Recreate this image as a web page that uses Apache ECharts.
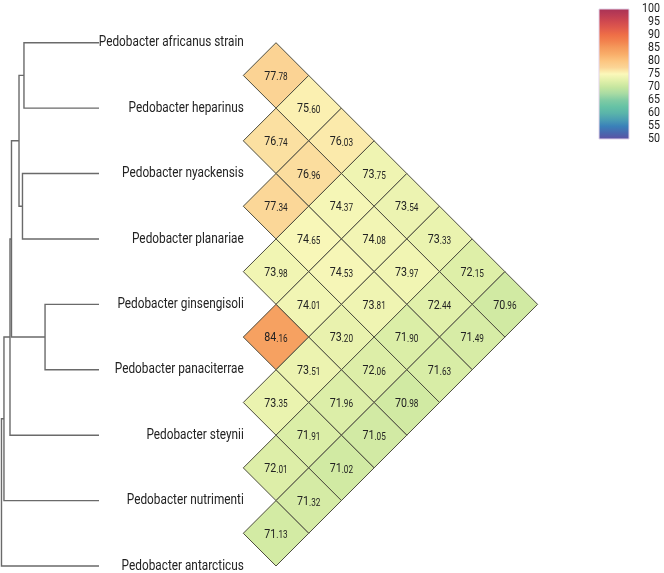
<!DOCTYPE html>
<html>
<head>
<meta charset="utf-8">
<script src="https://cdn.jsdelivr.net/npm/echarts@6/dist/echarts.min.js"></script>
<style>html,body{margin:0;padding:0;background:#fff;}#c{width:664px;height:573px;}</style>
</head>
<body>
<div id="c"></div>
<script>
// ---- data ----
var species = ['Pedobacter africanus strain','Pedobacter heparinus','Pedobacter nyackensis','Pedobacter planariae','Pedobacter ginsengisoli','Pedobacter panaciterrae','Pedobacter steynii','Pedobacter nutrimenti','Pedobacter antarcticus'];
// row i: identity of species i vs species i+1 .. 8
var row0 = [77.78, 75.60, 76.03, 73.75, 73.54, 73.33, 72.15, 70.96];
var row1 = [76.74, 76.96, 74.37, 74.08, 73.97, 72.44, 71.49];
var row2 = [77.34, 74.65, 74.53, 73.81, 71.90, 71.63];
var row3 = [73.98, 74.01, 73.20, 72.06, 70.98];
var row4 = [84.16, 73.51, 71.96, 71.05];
var row5 = [73.35, 71.91, 71.02];
var row6 = [72.01, 71.32];
var row7 = [71.13];
// dendrogram merges: [childA, childB, height]; leaves 0..8, new nodes 9..
var merges = [[0,1,75.8],[2,3,77.3],[9,10,80.8],[4,5,54.5],[11,12,88.4],[13,6,89.9],[14,7,96.0],[15,8,98.5]];
var colorTicks = [50,55,60,65,70,75,80,85,90,95,100];
// colour scale 50 -> 100 (equal steps)
var palette = ['#5E4FA2','#4967AE','#3A80B9','#4A9DB3','#5AB4AA','#66C2A5','#80CBA4','#A8DBA3','#C6E69F','#E2F0AA','#FBF8BA','#FBD596','#FCC580','#F9AE6A','#F59A5C','#F2824E','#EE6E47','#E05A4C','#D0494F','#BC3C54','#A83256'];

var FONT = 'Roboto, "Noto Sans", sans-serif';
var rows = [row0,row1,row2,row3,row4,row5,row6,row7];

// heatmap cells: [x, y, value]  (diamond layout)
var cells = [];
rows.forEach(function(r, i){
  r.forEach(function(v, k){
    var j = i + k + 1;
    cells.push([(j - i - 1) / 2, (i + j) / 2, v]);
  });
});
var labelData = species.map(function(s, i){ return [0, i]; });

// dendrogram segments
var nodeH = [], nodeY = [];
for (var i = 0; i < species.length; i++){ nodeH.push(0); nodeY.push(i); }
var dendro = [];
merges.forEach(function(m){
  var a = m[0], b = m[1], h = m[2];
  dendro.push([nodeH[a], nodeY[a], nodeH[b], nodeY[b], h]);
  nodeH.push(h); nodeY.push((nodeY[a] + nodeY[b]) / 2);
});

// condensed look: horizontal squeeze factor from measured width
var LABEL_FONT = '14.5px ' + FONT;
var ctx = document.createElement('canvas').getContext('2d');
ctx.font = LABEL_FONT;
var labelScale = 145 / ctx.measureText(species[0]).width;
var NUM_SCALE = 0.82;

var chart = echarts.init(document.getElementById('c'), null, {renderer:'canvas'});
var gTop = 42.7, gH = 523.3;
chart.setOption({
  animation: false,
  backgroundColor: '#fff',
  grid: [
    {left: 0, top: gTop, width: 99, height: gH},
    {left: 243.3, top: gTop, width: 294.3, height: gH},
    {left: 599, top: 9, width: 30, height: 130}
  ],
  xAxis: [
    {gridIndex: 0, type: 'value', min: 0, max: 100, inverse: true, show: false},
    {gridIndex: 1, type: 'value', min: -0.5, max: 4, show: false},
    {gridIndex: 2, type: 'value', min: 0, max: 1, show: false}
  ],
  yAxis: [
    {gridIndex: 0, type: 'value', min: 0, max: 8, inverse: true, show: false},
    {gridIndex: 1, type: 'value', min: 0, max: 8, interval: 1, inverse: true, show: false},
    {gridIndex: 2, type: 'value', min: 50, max: 100, interval: 5, show: false}
  ],
  visualMap: {show: false, type: 'continuous', min: 50, max: 100, seriesIndex: 1, dimension: 2,
    inRange: {color: palette}},
  series: [
    {
      type: 'custom', xAxisIndex: 0, yAxisIndex: 0, data: dendro, silent: true,
      renderItem: function(params, api){
        var p1 = api.coord([api.value(0), api.value(1)]);
        var p2 = api.coord([api.value(4), api.value(1)]);
        var p3 = api.coord([api.value(4), api.value(3)]);
        var p4 = api.coord([api.value(2), api.value(3)]);
        return {type: 'polyline', shape: {points: [p1, p2, p3, p4]},
          style: {stroke: '#6a6a6a', lineWidth: 1.4, fill: null}};
      }
    },
    {
      type: 'custom', xAxisIndex: 1, yAxisIndex: 1, data: cells, silent: true,
      encode: {x: 0, y: 1},
      renderItem: function(params, api){
        var x = api.value(0), y = api.value(1), v = api.value(2);
        var pts = [api.coord([x, y - 0.5]), api.coord([x + 0.5, y]), api.coord([x, y + 0.5]), api.coord([x - 0.5, y])];
        var c = api.coord([x, y]);
        var parts = v.toFixed(2).split('.');
        return {type: 'group', children: [
          {type: 'polygon', shape: {points: pts},
           style: {fill: api.visual('color'), stroke: '#4d4d3f', lineWidth: 1}},
          {type: 'text', x: c[0], y: c[1] + 0.5, scaleX: NUM_SCALE,
           style: {text: '{a|' + parts[0] + '}{b|.' + parts[1] + '}', align: 'center', verticalAlign: 'middle',
             rich: {a: {fontSize: 13, fontFamily: FONT, fill: '#222', lineHeight: 14, verticalAlign: 'bottom'},
                    b: {fontSize: 10, fontFamily: FONT, fill: '#222', lineHeight: 11, verticalAlign: 'bottom'}}}}
        ]};
      }
    },
    {
      type: 'custom', xAxisIndex: 1, yAxisIndex: 1, data: labelData, silent: true,
      renderItem: function(params, api){
        var p = api.coord([-0.5, api.value(1)]);
        return {type: 'text', x: p[0] + 0.5, y: p[1], scaleX: labelScale,
          style: {text: species[params.dataIndex], font: LABEL_FONT, fill: '#222', align: 'right', verticalAlign: 'middle'}};
      }
    },
    {
      type: 'custom', xAxisIndex: 2, yAxisIndex: 2, data: [[0, 100, 1, 50]], silent: true,
      renderItem: function(params, api){
        var a = api.coord([api.value(0), api.value(1)]);
        var b = api.coord([api.value(2), api.value(3)]);
        var stops = palette.slice().reverse().map(function(c, k){ return {offset: k / (palette.length - 1), color: c}; });
        return {type: 'rect', shape: {x: a[0], y: a[1], width: b[0] - a[0], height: b[1] - a[1]},
          style: {fill: new echarts.graphic.LinearGradient(0, 0, 0, 1, stops), stroke: '#e2d4ea', lineWidth: 1}};
      }
    },
    {
      type: 'custom', xAxisIndex: 2, yAxisIndex: 2, data: colorTicks.map(function(t){ return [1, t]; }), silent: true,
      renderItem: function(params, api){
        var p = api.coord([1, api.value(1)]);
        return {type: 'text', x: p[0] + 31, y: p[1], scaleX: NUM_SCALE,
          style: {text: String(api.value(1)), font: '13px ' + FONT, fill: '#222', align: 'right', verticalAlign: 'middle'}};
      }
    }
  ]
});
</script>
</body>
</html>
